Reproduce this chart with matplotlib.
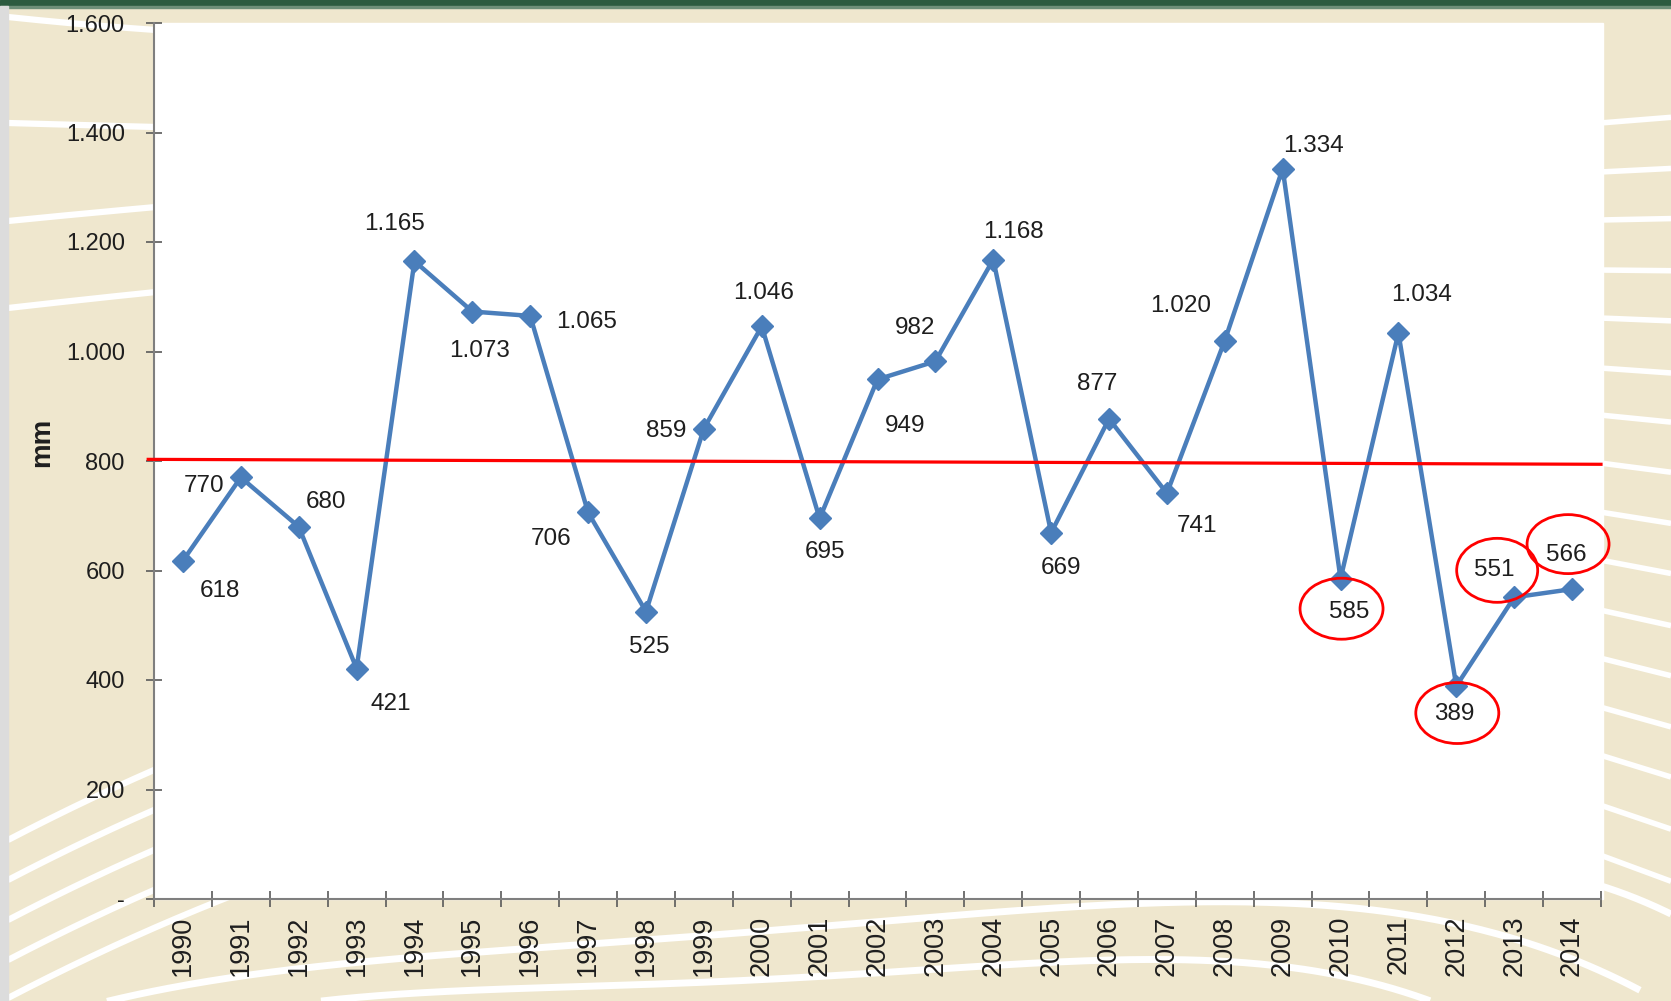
import numpy as np
import matplotlib
matplotlib.use("Agg")
import matplotlib.pyplot as plt
from matplotlib.lines import Line2D
from matplotlib.patches import Ellipse, Rectangle
import matplotlib.transforms as mtransforms

# ---------------- data ----------------
years = [str(y) for y in range(1990, 2015)]
rainfall = [618, 770, 680, 421, 1165, 1073, 1065, 706, 525, 859, 1046, 695, 949,
            982, 1168, 669, 877, 741, 1020, 1334, 585, 1034, 389, 551, 566]
reference_line = [803, 794]          # hand-drawn red line (start, end)
highlighted = ["2010", "2012", "2013", "2014"]
y_ticks = [0, 200, 400, 600, 800, 1000, 1200, 1400, 1600]
y_label = "mm"

# label offsets in pixels (dx right, dy down) relative to each point
label_offsets = [(37, 30), (-37, 9), (27, -25), (34, 35), (-20, -37), (7, 39),
                 (56, 6), (-37, 27), (3, 35), (-38, 2), (2, -33), (5, 34),
                 (28, 47), (-20, -33), (20, -28), (10, 35), (-12, -35), (30, 33),
                 (-44, -35), (31, -23), (9, 33), (23, -38), (-2, 28), (-20, -27),
                 (-6, -34)]
ellipse_geom = {"2010": (1, 30, 83, 61), "2012": (1, 27, 83, 61),
                "2013": (-17, -27, 81, 64), "2014": (-4, -45, 82, 59)}

W, H = 1671, 1001
BEIGE = "#EFE7CE"
BLUE = "#4A7EBB"
TXT = "#1E1E1E"
FONT = "Liberation Sans"

plt.rcParams["font.family"] = [FONT, "DejaVu Sans"]

fig = plt.figure(figsize=(W / 100, H / 100), dpi=100)
fig.patch.set_facecolor(BEIGE)

def fx(x):
    return x / W

def fy(y):
    return 1 - y / H

# ---------- decorative background ----------
def curve(points, lw=4.5):
    pts = np.array(points, dtype=float)
    xs = np.linspace(pts[:, 0].min(), pts[:, 0].max(), 300)
    deg = min(4, len(pts) - 1)
    c = np.polyfit(pts[:, 0], pts[:, 1], deg)
    ys = np.polyval(c, xs)
    fig.add_artist(Line2D(fx(xs), fy(ys), color="white", lw=lw,
                          transform=fig.transFigure, zorder=0.5,
                          solid_capstyle="butt"))

# left side
curve([(8, 17), (80, 24), (156, 30)])
curve([(8, 123), (80, 125), (156, 127)])
curve([(8, 221), (80, 214), (156, 207)])
curve([(8, 308), (80, 300), (156, 292)])
for y0 in [840, 880, 920, 960, 998]:
    curve([(8, y0), (154, y0 - 70), (400, y0 - 160)], lw=4.5)
# bottom
curve([(107, 1001), (375, 963), (589, 940), (840, 928), (1098, 905),
       (1258, 901), (1419, 917), (1526, 943), (1640, 990)], lw=5)
curve([(321, 1001), (482, 990), (840, 975), (1151, 960), (1312, 970),
       (1430, 1001)], lw=5)
curve([(1598, 885), (1635, 898), (1671, 914)], lw=5)
# right side fan
right_ys = [123, 172, 220, 270, 318, 368, 415, 463, 512, 560, 610, 658, 707, 755,
            805, 855]
for i, y0 in enumerate(right_ys):
    slope = -0.08 + 0.03 * i
    curve([(1600, y0), (1640, y0 + 40 * slope), (1671, y0 + 71 * slope)], lw=4)

# top green bar and left grey strip
fig.add_artist(Rectangle((0, fy(6)), 1, 6 / H, transform=fig.transFigure,
                         color="#2C5B3F", zorder=0.8))
fig.add_artist(Rectangle((0, fy(7.5)), 1, 1.5 / H, transform=fig.transFigure,
                         color="#6E8F78", zorder=0.8))
fig.add_artist(Rectangle((0, 0), 8 / W, fy(6), transform=fig.transFigure,
                         color="#DCDCDC", zorder=0.8))

# ---------- axes ----------
left, right, top, bottom = 154, 1601, 23, 899
ax = fig.add_axes([fx(left), fy(bottom), (right - left) / W, (bottom - top) / H])
ax.set_facecolor("white")
fig.add_artist(Rectangle((fx(left), fy(bottom)), (1603 - left) / W, (bottom - top) / H,
                         transform=fig.transFigure, color="white", zorder=0.9))
ax.set_zorder(1)

x = np.arange(len(years))
ax.set_xlim(-0.5, len(years) - 0.5)
ax.set_ylim(0, 1600)

for s in ["top", "right"]:
    ax.spines[s].set_visible(False)
for s in ["left", "bottom"]:
    ax.spines[s].set_color("#7F7F7F")
    ax.spines[s].set_linewidth(1.5)

ax.set_yticks(y_ticks)
ax.set_yticklabels(["-" if v == 0 else f"{v:,}".replace(",", ".") for v in y_ticks])
ax.tick_params(axis="y", direction="inout", length=11, width=1.2, color="#5A5A5A",
               pad=15.5, labelsize=17, labelcolor=TXT)

ax.set_xticks(np.arange(-0.5, len(years), 1.0))
ax.set_xticklabels([])
ax.set_xticks(x, minor=True)
ax.set_xticklabels(years, minor=True, rotation=90, fontsize=19.5, color=TXT)
ax.tick_params(axis="x", which="major", direction="inout", length=11, width=1.2,
               color="#5A5A5A")
ax.tick_params(axis="x", which="minor", length=0, pad=12)
for lab in ax.get_xticklabels(minor=True):
    lab.set_va("top")

ax.plot(x, rainfall, color=BLUE, lw=3.2, marker="D", ms=11, zorder=3)

ax.plot([-0.6, len(years) - 0.5], reference_line, color="#FF0000", lw=2.3,
        zorder=4, clip_on=False)

for i, (v, (dx, dy)) in enumerate(zip(rainfall, label_offsets)):
    txt = f"{v:,}".replace(",", ".")
    ax.annotate(txt, (x[i], v), xytext=(dx * 0.72, -dy * 0.72),
                textcoords="offset points", ha="center", va="center",
                fontsize=17.5, color=TXT, zorder=5)

fig.text(fx(42), fy(442), y_label, rotation=90, ha="center", va="center",
         fontsize=20, fontweight="bold", color=TXT)

# red ellipses around highlighted labels (pixel coordinates)
fig.canvas.draw()
for yr in highlighted:
    i = years.index(yr)
    px, py = ax.transData.transform((x[i], rainfall[i]))
    dx, dy, w, h = ellipse_geom[yr]
    e = Ellipse((px + dx, py - dy), w, h, fill=False, ec="#FF0000", lw=2.0,
                transform=mtransforms.IdentityTransform(), zorder=10)
    fig.add_artist(e)

fig.savefig("out.png", dpi=100, facecolor=fig.get_facecolor())
